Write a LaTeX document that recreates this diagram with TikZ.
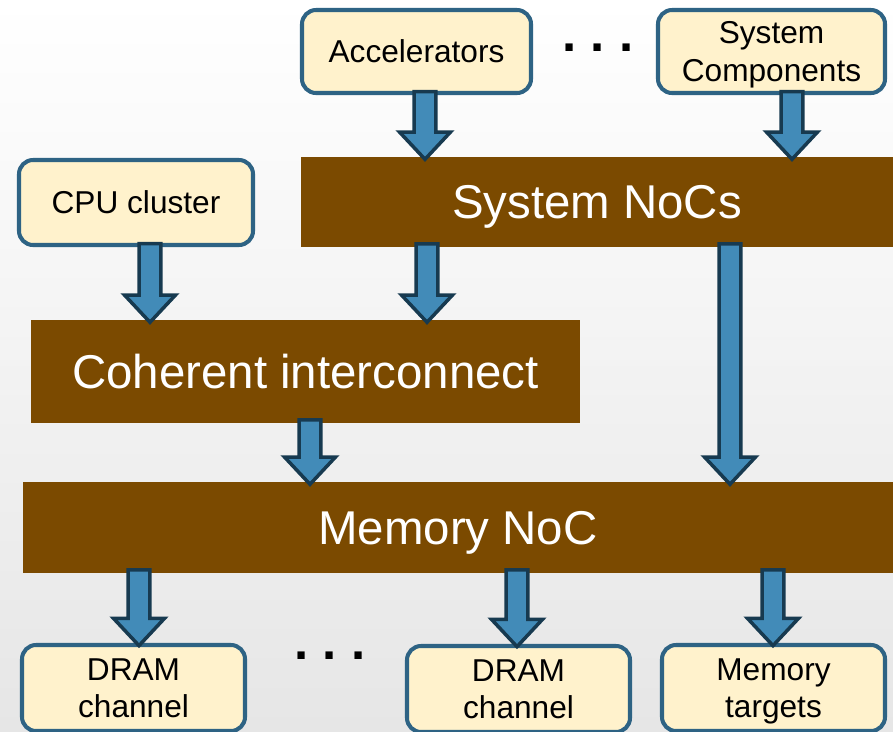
\documentclass[tikz,border=0pt]{standalone}
\usepackage{fontspec}
\setmainfont{Liberation Sans}
\usepackage{tikz}
\usetikzlibrary{calc}
\definecolor{bgbot}{HTML}{E6E6E6}
\definecolor{unitfill}{HTML}{FFF2CC}
\definecolor{unitline}{HTML}{2E6384}
\definecolor{nocbrown}{HTML}{7B4A00}
\definecolor{arrfill}{HTML}{428BB8}
\definecolor{arrline}{HTML}{173A50}

\tikzset{
  unit/.style={draw=unitline, line width=2.3pt, fill=unitfill, rounded corners=8pt,
    align=center, inner sep=0pt, text depth=0pt, font=\fontsize{18}{21.5}\selectfont},
  noc/.style={fill=nocbrown, text=white, inner sep=0pt, text depth=0pt,
    font=\fontsize{27}{32}\selectfont},
  dims/.style 2 args={minimum width=#1*0.02cm, minimum height=#2*0.02cm},
  blockarrow/.style={draw=arrline, fill=arrfill, line width=2pt, line join=miter},
  dots/.style={inner sep=0pt, font=\fontsize{29}{32}\bfseries\selectfont}
}

% block arrow going down at x=#1, from node #2 to node #3
\newcommand\flowarrow[3]{%
  \path[blockarrow] let \p0=(#1,0), \p1=(#2.south), \p2=(#3.north) in
    (\x0-6.2pt,\y1+2pt) -- (\x0-6.2pt,\y2+14pt) -- (\x0-14.5pt,\y2+14pt)
    -- (\x0,\y2-1.5pt) -- (\x0+14.5pt,\y2+14pt) -- (\x0+6.2pt,\y2+14pt)
    -- (\x0+6.2pt,\y1+2pt) -- cycle;}

\begin{document}
\begin{tikzpicture}[x=0.02cm, y=-0.02cm]
  % background
  \useasboundingbox (0,0) rectangle (893,731);
  \clip (0,0) rectangle (893,731);
  \shade[top color=white, bottom color=bgbot] (0,0) rectangle (893,731);

  % sources
  \node[unit, dims={229}{83}] (acc) at (416.5,51.5) {Accelerators};
  \node[unit, dims={227}{83}] (syscomp) at (771.5,51.5) {System\\Components};
  \node[unit, dims={234}{85}] (cpu) at (136,202.5) {CPU cluster};
  \node[dots] (topdots) at (598,48) {.~.~.};

  % interconnects
  \node[noc, dims={592}{90}] (sysnoc) at (597,202) {System NoCs};
  \node[noc, dims={549}{103}] (coh) at (305.5,371.5) {Coherent interconnect};
  \node[noc, dims={870}{91}] (memnoc) at (458,527.5) {Memory NoC};

  % memory side
  \node[unit, dims={223}{86}] (dram1) at (133.5,688) {DRAM\\channel};
  \node[unit, dims={223}{86}] (dram2) at (518.5,689) {DRAM\\channel};
  \node[unit, dims={223}{86}] (memtgt) at (773.5,688) {Memory\\targets};
  \node[dots] (botdots) at (330,656) {.~.~.};

  % arrows
  \flowarrow{425}{acc}{sysnoc}
  \flowarrow{792}{syscomp}{sysnoc}
  \flowarrow{150}{cpu}{coh}
  \flowarrow{427}{sysnoc}{coh}
  \flowarrow{310}{coh}{memnoc}
  \flowarrow{730}{sysnoc}{memnoc}
  \flowarrow{139}{memnoc}{dram1}
  \flowarrow{517}{memnoc}{dram2}
  \flowarrow{773}{memnoc}{memtgt}
\end{tikzpicture}
\end{document}
